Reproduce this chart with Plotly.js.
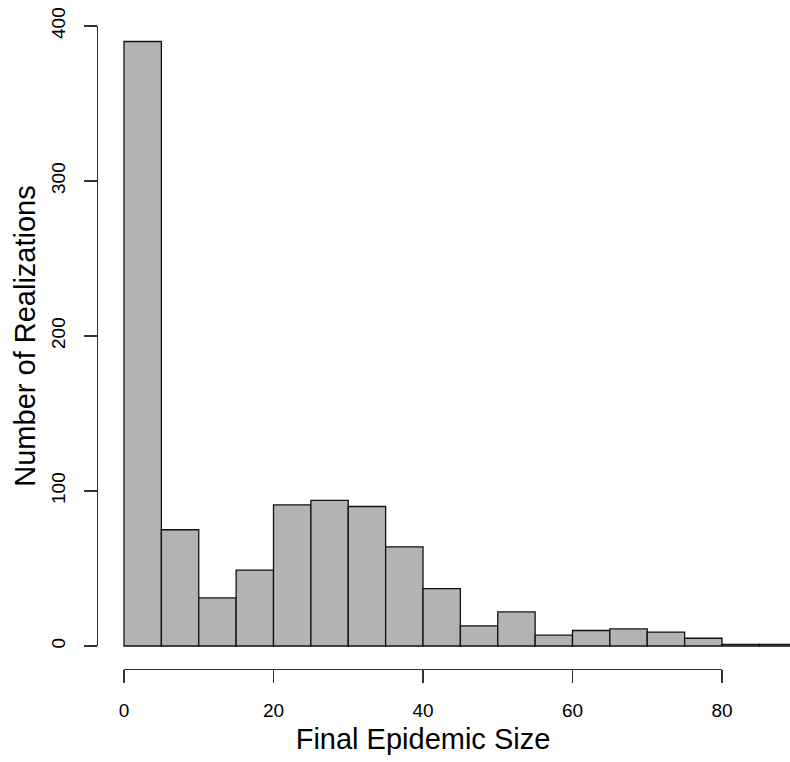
<!DOCTYPE html>
<html>
<head>
<meta charset="utf-8">
<script src="https://cdn.plot.ly/plotly-3.0.1.min.js"></script>
<style>html,body{margin:0;padding:0;background:#fff;}#chart{width:790px;height:762px;}</style>
</head>
<body>
<div id="chart"></div>
<script>
// Histogram bins (width 5) and counts
const binEdges = [0,5,10,15,20,25,30,35,40,45,50,55,60,65,70,75,80,85,90];
const counts = [390,75,31,49,91,94,90,64,37,13,22,7,10,11,9,5,1,1];
const xTicks = [0,20,40,60,80];
const yTicks = [0,100,200,300,400];
const xTitle = "Final Epidemic Size";
const yTitle = "Number of Realizations";

const centers = counts.map((c,i)=> (binEdges[i]+binEdges[i+1])/2);
const widths = counts.map((c,i)=> binEdges[i+1]-binEdges[i]);

const W = 790, H = 762;
const mL = 97, mR = 0, mT = 26, mB = 93;
const pw = W - mL - mR, ph = H - mT - mB;
// pixel scale
const px0 = 124, pxPerUnit = 7.475;   // x=0 at 124px
const py0 = 646, pyPerUnit = 1.55;    // y=0 at 646px
const xr = [(mL - px0)/pxPerUnit, (W - mR - px0)/pxPerUnit];
const yr = [-((H - mB) - py0)/pyPerUnit, 400];

const font = {family: "Liberation Sans, Arial, Helvetica, sans-serif", color: "#000"};

const traces = [
  {
    type: 'bar', x: centers, y: counts, width: widths,
    marker: {color: '#b3b3b3', line: {color: '#111', width: 1.3}},
    hoverinfo: 'x+y', showlegend: false
  },
  {
    type: 'scatter', mode: 'markers', x: [null], y: [null],
    xaxis: 'x2', yaxis: 'y2', showlegend: false, hoverinfo: 'skip'
  }
];

const layout = {
  width: W, height: H,
  margin: {l: mL, r: mR, t: mT, b: mB, pad: 0},
  paper_bgcolor: '#fff', plot_bgcolor: 'rgba(0,0,0,0)',
  bargap: 0,
  showlegend: false,
  xaxis: {range: xr, visible: false, domain: [0,1], fixedrange: true},
  yaxis: {range: yr, visible: false, domain: [0,1], fixedrange: true},
  xaxis2: {
    domain: [(px0 - mL)/pw, (px0 + 80*pxPerUnit - mL)/pw],
    range: [0, 80], anchor: 'free', position: 0,
    showline: true, linecolor: '#333', linewidth: 1.2,
    ticks: 'outside', ticklen: 13, tickwidth: 1.2, tickcolor: '#333',
    tickmode: 'array', tickvals: xTicks, ticktext: xTicks.map(String),
    showgrid: false, zeroline: false,
    tickfont: Object.assign({size: 19}, font),
    ticklabelstandoff: 11,
    title: {text: xTitle, font: Object.assign({size: 29}, font), standoff: 8},
    fixedrange: true
  },
  yaxis2: {
    domain: [((H - mB) - py0)/ph, 1],
    range: [0, 400], anchor: 'free', position: 0,
    showline: true, linecolor: '#333', linewidth: 1.2,
    ticks: 'outside', ticklen: 13, tickwidth: 1.2, tickcolor: '#333',
    tickmode: 'array', tickvals: yTicks, ticktext: yTicks.map(String),
    tickangle: -90,
    showgrid: false, zeroline: false,
    tickfont: Object.assign({size: 19}, font),
    ticklabelstandoff: 11,
    title: {text: yTitle, font: Object.assign({size: 29}, font), standoff: 3},
    fixedrange: true
  }
};

Plotly.newPlot('chart', traces, layout, {displayModeBar: false, staticPlot: true});
</script>
</body>
</html>
